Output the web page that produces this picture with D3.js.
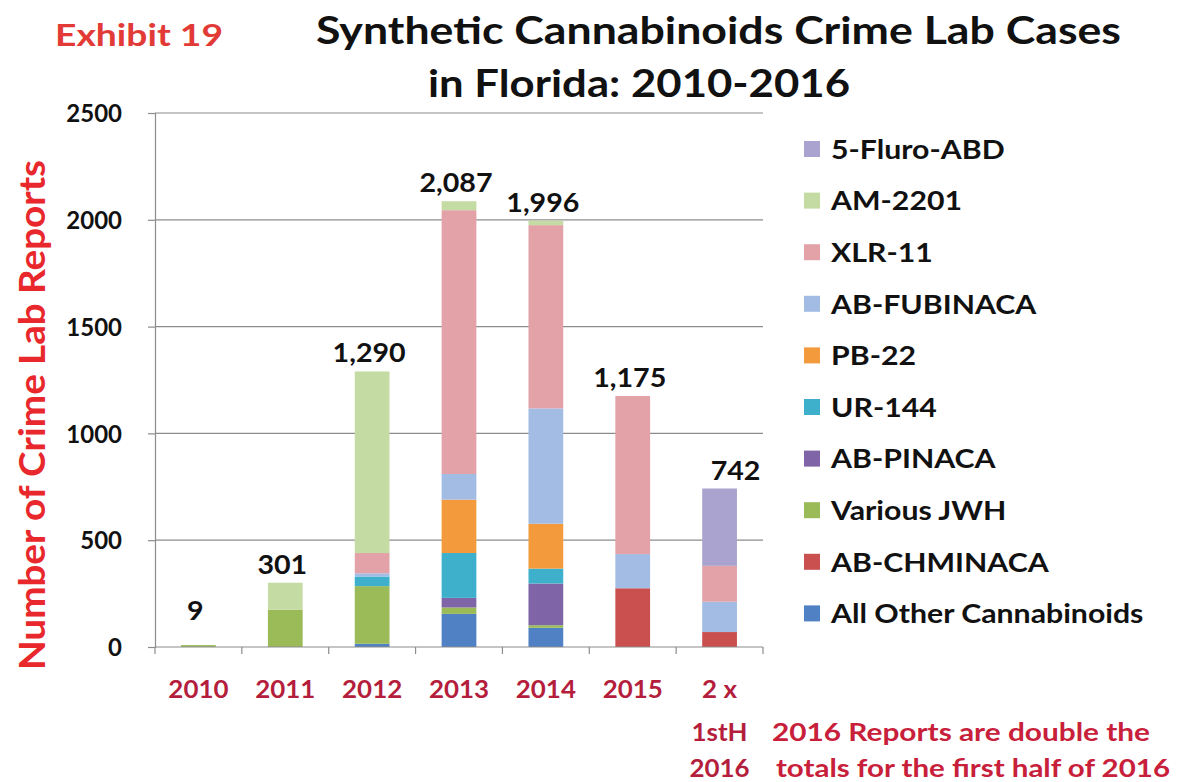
<!DOCTYPE html>
<html>
<head>
<meta charset="utf-8">
<script src="https://cdn.jsdelivr.net/npm/d3@7"></script>
<style>
  html, body { margin: 0; padding: 0; background: #fff; }
  svg { display: block; font-family: Lato, "Open Sans", sans-serif; font-weight: bold; }
</style>
</head>
<body>
<svg id="chart" width="1182" height="782"></svg>
<script>
// Years on the x axis (last one is twice the first-half 2016 count)
const categories = ["2010", "2011", "2012", "2013", "2014", "2015", "2 x\n1stH\n2016"];

// Reported totals shown above each bar
const totals = [9, 301, 1290, 2087, 1996, 1175, 742];

// Cases per compound, stacked bottom to top in this order
const allOther   = [0,   0,  15,  155,  90,   0,   0];
const abChminaca = [0,   0,   0,    0,   0, 275,  70];
const variousJwh = [9, 175, 270,   30,  12,   0,   0];
const abPinaca   = [0,   0,   0,   45, 195,   0,   0];
const ur144      = [0,   0,  45,  210,  70,   0,   0];
const pb22       = [0,   0,   0,  250, 210,   0,   0];
const abFubinaca = [0,   0,  15,  120, 540, 160, 142];
const xlr11      = [0,   0,  95, 1235, 858, 740, 168];
const am2201     = [0, 126, 850,   42,  21,   0,   0];
const fluroAbd   = [0,   0,   0,    0,   0,   0, 362];

const seriesNames = ["All Other Cannabinoids", "AB-CHMINACA", "Various JWH", "AB-PINACA",
  "UR-144", "PB-22", "AB-FUBINACA", "XLR-11", "AM-2201", "5-Fluro-ABD"];
const seriesValues = [allOther, abChminaca, variousJwh, abPinaca, ur144, pb22,
  abFubinaca, xlr11, am2201, fluroAbd];

const yTicks = [0, 500, 1000, 1500, 2000, 2500];

const seriesColors = ["#4f81c4", "#c9504f", "#9bbb59", "#7f64a8", "#3fb0cc", "#f29a3c",
  "#a2bce4", "#e2a2a8", "#c5dba4", "#aaa2cf"];

const svg = d3.select("#chart");
svg.append("rect").attr("width", 1182).attr("height", 782).attr("fill", "#fff");

// Widen a text run horizontally by factor k (optionally re-centred on cx)
function widen(sel, k, cx) {
  sel.each(function () {
    const w = this.getComputedTextLength() * k;
    const t = d3.select(this).attr("textLength", w).attr("lengthAdjust", "spacingAndGlyphs");
    if (cx !== undefined) {
      const c = typeof cx === "function" ? cx.apply(this, arguments) : cx;
      t.attr("text-anchor", "start").attr("x", c - w / 2);
    }
  });
}
// Fit a text run to an exact width
function fit(sel, w) {
  sel.attr("textLength", w).attr("lengthAdjust", "spacingAndGlyphs");
}

// Scales
const x = d3.scaleBand().domain(categories).range([155, 763])
  .paddingInner(0.6).paddingOuter(0.3);
const y = d3.scaleLinear().domain([0, 2500]).range([647, 113]);
const cxOf = c => x(c) + x.bandwidth() / 2;

// Gridlines
svg.append("g").selectAll("line").data(yTicks.filter(d => d > 0)).join("line")
  .attr("x1", 155).attr("x2", 763)
  .attr("y1", d => y(d)).attr("y2", d => y(d))
  .attr("stroke", "#8c8c8c").attr("stroke-width", 1.2);

// Stacked data
const rows = categories.map((c, i) => {
  const r = { cat: c };
  seriesNames.forEach((n, k) => r[n] = seriesValues[k][i]);
  return r;
});
const stacked = d3.stack().keys(seriesNames)(rows);

svg.append("g").selectAll("g").data(stacked).join("g")
  .attr("fill", (d, i) => seriesColors[i])
  .selectAll("rect").data(d => d).join("rect")
  .attr("x", d => x(d.data.cat))
  .attr("width", x.bandwidth())
  .attr("y", d => y(d[1]))
  .attr("height", d => Math.max(0, y(d[0]) - y(d[1])));

// Y axis
const yAxis = svg.append("g").attr("transform", "translate(155,0)")
  .call(d3.axisLeft(y).tickValues(yTicks).tickSize(7).tickPadding(26).tickFormat(d3.format("d")));
yAxis.select(".domain").attr("stroke", "#8c8c8c").attr("stroke-width", 1.2);
yAxis.selectAll(".tick line").attr("stroke", "#8c8c8c").attr("stroke-width", 1.2);
yAxis.selectAll(".tick text").attr("font-size", 24).attr("font-family", "Lato")
  .attr("font-weight", "bold").attr("fill", "#111").attr("dy", "0.36em");

// X axis: line with ticks between categories
const xAxisG = svg.append("g");
xAxisG.append("line").attr("x1", 155).attr("x2", 763).attr("y1", 647).attr("y2", 647)
  .attr("stroke", "#8c8c8c").attr("stroke-width", 1.2);
const step = x.step();
const bounds = d3.range(categories.length + 1).map(i =>
  i === 0 ? 155 : (i === categories.length ? 763 : x(categories[i]) - step * x.paddingInner() / 2));
xAxisG.selectAll("line.tk").data(bounds).join("line").attr("class", "tk")
  .attr("x1", d => d).attr("x2", d => d).attr("y1", 647).attr("y2", 654)
  .attr("stroke", "#8c8c8c").attr("stroke-width", 1.2);

// Category labels (multi-line for the doubled 2016 entry)
const lineY = [698, 741, 777];
const xl = svg.append("g").selectAll("text").data(categories).join("text")
  .attr("font-size", 24).attr("fill", "#b41e3c");
xl.selectAll("tspan").data(d => d.split("\n").map(s => ({ s, c: d }))).join("tspan")
  .attr("x", d => cxOf(d.c))
  .attr("y", (d, i) => lineY[i])
  .attr("text-anchor", "middle")
  .text(d => d.s)
  .call(widen, 1.08, d => cxOf(d.c));

// Total labels above the bars
svg.append("g").selectAll("text").data(totals).join("text")
  .attr("y", d => Math.min(y(d) - 9, 620))
  .attr("font-size", 26).attr("fill", "#111")
  .text(d => d3.format(",")(d))
  .call(widen, 1.1, (d, i) => cxOf(categories[i]) + (i === categories.length - 1 ? 16 : -3));

// Legend (top entry is the last stacked series)
const legendOrder = seriesNames.map((n, i) => i).reverse();
const lg = svg.append("g").selectAll("g").data(legendOrder).join("g")
  .attr("transform", (d, j) => `translate(804,${149 + j * 51.6})`);
lg.append("rect").attr("x", 0).attr("y", -8).attr("width", 16).attr("height", 16)
  .attr("fill", d => seriesColors[d]);
lg.append("text").attr("x", 27).attr("dy", "0.36em")
  .attr("font-size", 27).attr("fill", "#111")
  .text(d => seriesNames[d])
  .call(widen, 1.12);

// Titles
svg.append("text").attr("x", 55).attr("y", 46).attr("font-size", 31)
  .attr("fill", "#e23a36").text("Exhibit 19").call(fit, 168);
svg.append("text").attr("x", 316).attr("y", 44)
  .attr("font-size", 38).attr("fill", "#111")
  .text("Synthetic Cannabinoids Crime Lab Cases").call(fit, 805);
svg.append("text").attr("x", 428).attr("y", 97)
  .attr("font-size", 38).attr("fill", "#111")
  .text("in Florida: 2010-2016").call(fit, 422);

// Y axis title
svg.append("text").attr("transform", "translate(45,670) rotate(-90)")
  .attr("font-size", 36).attr("fill", "#e8282c")
  .text("Number of Crime Lab Reports").call(fit, 510);

// Footnote
const note = svg.append("g").attr("font-size", 25).attr("fill", "#c8203a");
note.append("text").attr("x", 772).attr("y", 741).text("2016 Reports are double the").call(fit, 378);
note.append("text").attr("x", 776).attr("y", 777).text("totals for the first half of 2016").call(fit, 394);
</script>
</body>
</html>
